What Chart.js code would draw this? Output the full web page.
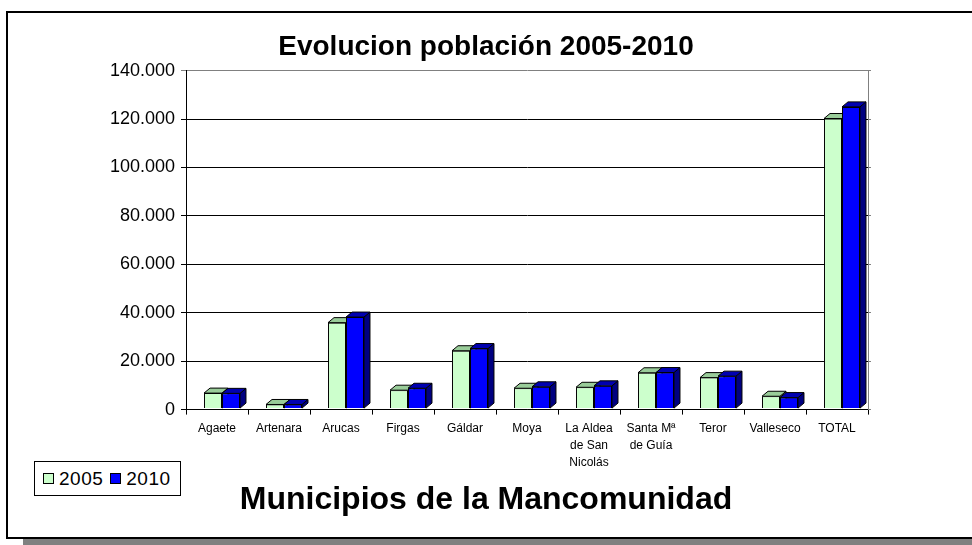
<!DOCTYPE html>
<html>
<head>
<meta charset="utf-8">
<script src="https://cdn.jsdelivr.net/npm/chart.js@4/dist/chart.umd.min.js"></script>
<style>
    body { margin: 0; background: #fff; }
    #wrap { position: relative; width: 972px; height: 545px; overflow: hidden; }
    #shadow { position: absolute; left: 23px; top: 530px; width: 1000px; height: 20px; background: #808080; }
    #frame { position: absolute; left: 6px; top: 11px; width: 1000px; height: 524px; border: 2px solid #000; background: #fff; }
    canvas { position: absolute; left: 0; top: 0; }
    #legend {
        position: absolute; left: 34px; top: 461px; width: 137px; height: 33px;
        border: 1px solid #000; background: #fff;
        font: 19px 'Liberation Sans', Arial, sans-serif; letter-spacing: 0.5px;
        display: flex; align-items: center; padding: 0 0 0 8px; box-sizing: content-box;
    }
    #legend span.box { display: inline-block; width: 9px; height: 9px; border: 1px solid #000; margin-right: 5px; }
    #legend span.item { display: inline-flex; align-items: center; margin-right: 7px; }
</style>
</head>
<body>
<div id="wrap">
    <div id="shadow"></div>
    <div id="frame"></div>
    <canvas id="chart" width="972" height="545"></canvas>
    <div id="legend"></div>
</div>
<script>
const municipios = ['Agaete', 'Artenara', 'Arucas', 'Firgas', 'Gáldar', 'Moya',
    ['La Aldea', 'de San', 'Nicolás'], ['Santa Mª', 'de Guía'], 'Teror', 'Valleseco', 'TOTAL'];
const pob2005 = [6400, 1700, 35500, 7600, 23900, 8400, 8800, 14800, 12800, 5100, 119800];
const pob2010 = [6300, 1700, 37800, 8400, 24800, 9000, 9400, 14900, 13400, 4550, 124600];
const yTicks = [0, 20000, 40000, 60000, 80000, 100000, 120000, 140000];

const font = "'Liberation Sans', Arial, sans-serif";

// lados y tapas en 3D; Chart.js pinta los datasets al revés, así que
// se vuelve a pintar cada serie en orden antes de sus caras 3D
const bars3d = {
    id: 'bars3d',
    beforeDatasetsDraw (chart) {
        chart.ctx.save();
        chart.ctx.translate(5, -1);
    },
    afterDatasetsDraw (chart) {
        const ctx = chart.ctx;
        const dx = 6, dy = -5;
        chart.data.datasets.forEach((ds, i) => {
            const meta = chart.getDatasetMeta(i);
            meta.data.forEach(bar => {
                if (i > 0) bar.draw(ctx, chart.chartArea);
                const p = bar.getProps(['x', 'y', 'base', 'width'], true);
                const l = p.x - p.width / 2, r = p.x + p.width / 2;
                ctx.lineWidth = 1;
                ctx.strokeStyle = '#000';
                // lado
                ctx.beginPath();
                ctx.moveTo(r, p.y);
                ctx.lineTo(r + dx, p.y + dy);
                ctx.lineTo(r + dx, p.base + dy);
                ctx.lineTo(r, p.base);
                ctx.closePath();
                ctx.fillStyle = ds.sideColor;
                ctx.fill();
                ctx.stroke();
                // tapa
                ctx.beginPath();
                ctx.moveTo(l, p.y);
                ctx.lineTo(l + dx, p.y + dy);
                ctx.lineTo(r + dx, p.y + dy);
                ctx.lineTo(r, p.y);
                ctx.closePath();
                ctx.fillStyle = ds.topColor;
                ctx.fill();
                ctx.stroke();
            });
        });
        ctx.restore();
    }
};

const fmt = v => String(v).replace(/\B(?=(\d{3})+(?!\d))/g, '.');

const chart = new Chart(document.getElementById('chart'), {
    type: 'bar',
    plugins: [bars3d],
    data: {
        labels: municipios,
        datasets: [
            { label: '2005', data: pob2005, backgroundColor: '#ccffcc', topColor: '#99cc99', sideColor: '#99cc99',
              borderColor: '#000', borderWidth: 1 },
            { label: '2010', data: pob2010, backgroundColor: '#0000ff', topColor: '#0000b0', sideColor: '#000080',
              borderColor: '#000', borderWidth: 1 }
        ]
    },
    options: {
        responsive: false,
        animation: false,
        layout: { padding: { left: 10, right: 10, top: 30, bottom: 26 } },
        categoryPercentage: 0.58,
        barPercentage: 1,
        plugins: {
            legend: { display: false },
            tooltip: { enabled: false },
            title: {
                display: true,
                text: 'Evolucion población 2005-2010',
                color: '#000',
                font: { family: font, size: 28, weight: 'bold' },
                padding: { top: 0, bottom: 7 }
            },
            subtitle: {
                display: true,
                position: 'bottom',
                text: 'Municipios de la Mancomunidad',
                color: '#000',
                font: { family: font, size: 32, weight: 'bold' },
                padding: 0
            }
        },
        scales: {
            x: {
                afterFit: s => { s.height = 71; },
                grid: { offset: true, drawOnChartArea: false, color: '#000', tickLength: 5 },
                border: { color: '#000', width: 1 },
                ticks: {
                    autoSkip: false, maxRotation: 0, color: '#000', padding: 6,
                    font: { family: font, size: 12, lineHeight: 1.4 }
                }
            },
            y: {
                min: 0, max: 140000,
                afterFit: s => { s.width = 176; },
                afterBuildTicks: s => { s.ticks = yTicks.map(v => ({ value: v })); },
                grid: {
                    color: c => c.tick && c.tick.value === 140000 ? '#808080' : '#000',
                    tickLength: 5, lineWidth: 1
                },
                border: { color: '#000', width: 1 },
                ticks: { color: '#000', padding: 6, font: { family: font, size: 18 }, callback: v => fmt(v) }
            },
            y2: {
                position: 'right',
                min: 0, max: 140000,
                afterFit: s => { s.width = 94; },
                afterBuildTicks: s => { s.ticks = yTicks.map(v => ({ value: v })); },
                grid: { drawOnChartArea: false, color: '#808080', tickLength: 3 },
                border: { color: '#808080', width: 1 },
                ticks: { display: false }
            }
        }
    }
});

// leyenda en HTML
const legend = document.getElementById('legend');
chart.data.datasets.forEach(ds => {
    const item = document.createElement('span');
    item.className = 'item';
    item.innerHTML = `<span class="box" style="background:${ds.backgroundColor}"></span>${ds.label}`;
    legend.appendChild(item);
});
</script>
</body>
</html>
